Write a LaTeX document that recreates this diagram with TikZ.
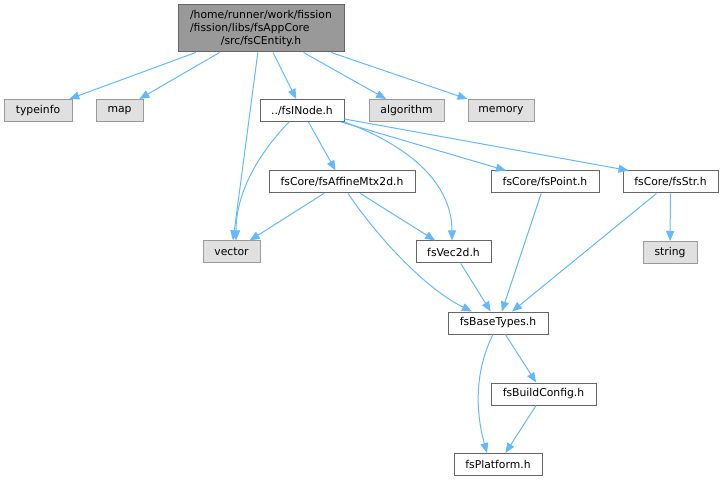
\documentclass[tikz,border=0pt]{standalone}
\usepackage{fontspec}
\setmainfont{DejaVu Sans}
\usetikzlibrary{arrows.meta, positioning}
\usepackage{color}

\definecolor{edgeblue}{HTML}{63B8FF}
\definecolor{rootfill}{HTML}{999999}
\definecolor{rootline}{HTML}{666666}
\definecolor{extfill}{HTML}{E0E0E0}
\definecolor{extline}{HTML}{999999}

\tikzset{
  rootbox/.style={draw=rootline, fill=rootfill, line width=1pt, inner sep=0pt, minimum height=47pt},
  filebox/.style={draw=rootline, fill=white, line width=1pt, inner sep=0pt, minimum height=22pt},
  extbox/.style={draw=extline, fill=extfill, line width=1pt, inner sep=0pt, minimum height=22pt},
  incl/.style={draw=edgeblue, line width=1pt, -{Triangle[length=10pt,width=8pt]}}
}

\begin{document}
\begin{tikzpicture}[x=1pt, y=-1pt, font=\fontsize{10.8}{13}\selectfont]
\useasboundingbox (0,0) rectangle (723,481);
% top file
\node[rootbox, minimum width=166pt] (root) at (261,28.5) {\begin{tabular}{@{}l@{}}/home/runner/work/fission\\/fission/libs/fsAppCore\\\multicolumn{1}{@{}c@{}}{/src/fsCEntity.h}\end{tabular}};
% row 1
\node[extbox, minimum width=68pt] (typeinfo) at (38,110.5) {typeinfo};
\node[extbox, minimum width=47pt] (map) at (119.5,110.5) {map};
\node[filebox, minimum width=84pt] (inode) at (302,110.5) {../fsINode.h};
\node[extbox, minimum width=75pt] (algorithm) at (406.5,110.5) {algorithm};
\node[extbox, minimum width=66pt] (memory) at (501,110.5) {memory};
% row 2
\node[filebox, minimum width=146pt] (affine) at (342,182) {fsCore/fsAffineMtx2d.h};
\node[filebox, minimum width=108pt] (point) at (545,182) {fsCore/fsPoint.h};
\node[filebox, minimum width=95pt] (str) at (670.5,182) {fsCore/fsStr.h};
% row 3
\node[extbox, minimum width=57pt] (vector) at (231.5,252) {vector};
\node[filebox, minimum width=75pt] (vec2d) at (453.5,252) {fsVec2d.h};
\node[extbox, minimum width=54pt] (string) at (670,252.5) {string};
% lower rows
\node[filebox, minimum width=100pt] (basetypes) at (498,323) {fsBaseTypes.h};
\node[filebox, minimum width=105pt] (buildconfig) at (543.5,394) {fsBuildConfig.h};
\node[filebox, minimum width=88pt] (platform) at (498,464.5) {fsPlatform.h};

% includes of the top file
\draw[incl] (root) -- (typeinfo);
\draw[incl] (root) -- (map);
\draw[incl] (root) -- (inode);
\draw[incl] (root) -- (vector);
\draw[incl] (root) -- (algorithm);
\draw[incl] (root) -- (memory);
% includes of fsINode.h
\draw[incl] ([xshift=-13pt]inode.south) .. controls +(-27,28) and +(0,-51) .. ([xshift=4.5pt]vector.north);
\draw[incl] (inode) -- (affine);
\draw[incl] (inode.south east) .. controls +(76,28) and +(0,-50) .. ([xshift=-1.5pt]vec2d.north);
\draw[incl] (inode) -- (point);
\draw[incl] ([yshift=3pt]inode.south east) -- ([xshift=6pt]str.north west);
% fsAffineMtx2d.h
\draw[incl] (affine) -- (vector);
\draw[incl] (affine) -- (vec2d);
\draw[incl] ([xshift=6pt]affine.south) .. controls +(32,47) and +(-45,-22) .. ([xshift=-26pt]basetypes.north);
% the rest
\draw[incl] (vec2d) -- (basetypes);
\draw[incl] (point) -- (basetypes);
\draw[incl] (str) -- (basetypes);
\draw[incl] (str) -- (string);
\draw[incl] (basetypes) -- (buildconfig);
\draw[incl] ([xshift=-5pt]basetypes.south) .. controls +(-18,36) and +(-12,-43) .. ([xshift=-11pt]platform.north);
\draw[incl] (buildconfig) -- (platform);
\end{tikzpicture}
\end{document}
